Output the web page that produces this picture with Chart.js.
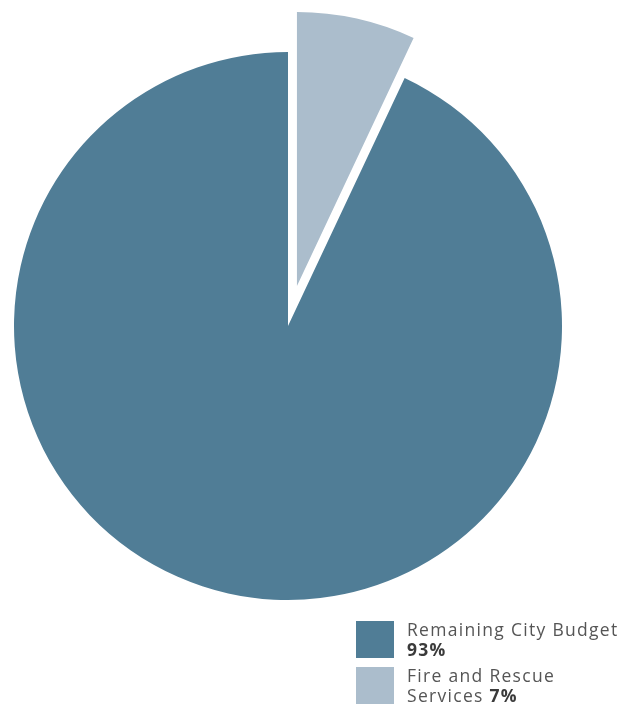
<!DOCTYPE html>
<html>
<head>
<meta charset="utf-8">
<script src="https://cdn.jsdelivr.net/npm/chart.js@4"></script>
<style>
  html, body { margin: 0; padding: 0; background: #fff; }
  #wrap { position: relative; width: 639px; height: 708px; }
  #chart-box { position: absolute; left: 0; top: 0; width: 576px; height: 652px; }
  #legend { position: absolute; left: 356px; top: 621px; font-family: "Open Sans", sans-serif; font-size: 17.5px; color: #555; }
  .item { position: relative; height: 46px; }
  .swatch { position: absolute; left: 0; top: 0; width: 38px; height: 37px; }
  .text { position: absolute; left: 51px; top: -2px; line-height: 20px; white-space: nowrap; letter-spacing: 1.3px; }
  .text b { font-weight: 700; color: #3a3a3a; }
</style>
</head>
<body>
<div id="wrap">
  <div id="chart-box"><canvas id="chart"></canvas></div>
  <div id="legend"></div>
</div>
<script>
const labels = ['Fire and Rescue Services', 'Remaining City Budget'];
const legendLines = [['Fire and Rescue', 'Services'], ['Remaining City Budget', '']];
const values = [7, 93];
const colors = ['#abbdcc', '#507d96'];
const explode = [41, 0];

// pull slices straight out along their middle angle (same radius)
const explodePlugin = {
    id: 'explode',
    afterDatasetUpdate(chart, args) {
        const meta = chart.getDatasetMeta(args.index);
        meta.data.forEach((arc, i) => {
            const d = explode[i] || 0;
            if (!d) return;
            const mid = (arc.startAngle + arc.endAngle) / 2;
            arc.x += Math.cos(mid) * d;
            arc.y += Math.sin(mid) * d;
        });
    }
};

const ctx = document.querySelector('#chart').getContext('2d');
const myChart = new Chart(ctx, {
    type: 'pie',
    data: {
        labels: labels,
        datasets: [{
            data: values,
            backgroundColor: colors,
            borderWidth: 0
        }]
    },
    options: {
        responsive: true,
        maintainAspectRatio: false,
        animation: false,
        radius: 274,
        plugins: {
            legend: { display: false },
            tooltip: { enabled: false }
        }
    },
    plugins: [explodePlugin]
});

// legend: remaining budget first, then fire and rescue
const legend = document.querySelector('#legend');
for (let i = labels.length - 1; i >= 0; i--) {
    const item = document.createElement('div');
    item.className = 'item';
    const sw = document.createElement('div');
    sw.className = 'swatch';
    sw.style.background = colors[i];
    const t = document.createElement('div');
    t.className = 'text';
    const [l1, l2] = legendLines[i];
    if (l2) {
        t.innerHTML = l1 + '<br>' + l2 + ' <b>' + values[i] + '%</b>';
    } else {
        t.innerHTML = l1 + '<br><b>' + values[i] + '%</b>';
    }
    item.appendChild(sw);
    item.appendChild(t);
    legend.appendChild(item);
}
</script>
</body>
</html>
